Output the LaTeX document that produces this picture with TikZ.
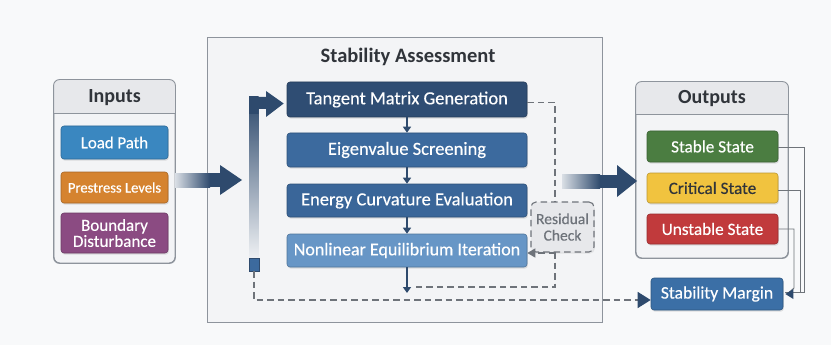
\documentclass[tikz,border=0pt]{standalone}
\usepackage{fontspec}
\setmainfont{Carlito}
\newfontfamily\boxfont{Carlito}[FakeBold=0.35]
\usetikzlibrary{arrows.meta,shadows,calc}

\definecolor{bgc}{HTML}{F8F9FA}
\definecolor{navy}{HTML}{2E4A6D}
\definecolor{panelfill}{HTML}{F3F4F6}
\definecolor{panelline}{HTML}{8E949C}
\definecolor{headfill}{HTML}{E7E8EB}
\definecolor{tmgc}{HTML}{2F4D73}
\definecolor{eigc}{HTML}{3C6A9E}
\definecolor{enc}{HTML}{3A6699}
\definecolor{nlc}{HTML}{6796C6}
\definecolor{loadc}{HTML}{3A87C0}
\definecolor{presc}{HTML}{D5832F}
\definecolor{bndc}{HTML}{8B4B82}
\definecolor{stc}{HTML}{4B7D41}
\definecolor{crc}{HTML}{F1C33F}
\definecolor{unc}{HTML}{C13A3C}
\definecolor{smc}{HTML}{3B6FA6}
\definecolor{dgray}{HTML}{6E737A}
\definecolor{lgray}{HTML}{6F747A}
\definecolor{textdark}{HTML}{30343A}

\begin{document}
\begin{tikzpicture}[x=1pt,y=-1pt,
  box/.style={rounded corners=3pt, fill=#1, draw=#1!78!black, line width=0.6pt,
    text=white, inner sep=0pt, align=center,
    drop shadow={opacity=0.22, shadow xshift=0.8pt, shadow yshift=-1.6pt}},
  panel/.style={fill=panelfill, draw=panelline, line width=0.9pt, inner sep=0pt},
  flow/.style={draw=navy, line width=1.7pt, -{Triangle[length=6pt,width=8pt]}},
  dashline/.style={draw=dgray, line width=1.3pt, dash pattern=on 6.5pt off 4pt},
  outline/.style={draw=lgray, line width=0.9pt},
  headtext/.style={font=\bfseries\fontsize{20}{22}\selectfont, text=textdark},
]
% page background
\fill[bgc] (0,0) rectangle (831,345);
\useasboundingbox (0,0) rectangle (831,345);

% ---------- Inputs panel ----------
\node[panel, rounded corners=6pt, minimum width=121pt, minimum height=183pt] (inp) at (114.5,171.5) {};
\begin{scope}
  \clip[rounded corners=6pt] (inp.north west) rectangle (inp.south east);
  \fill[headfill] (inp.north west) rectangle ($(inp.north east)+(0,34)$);
\end{scope}
\draw[panelline, line width=0.9pt] ($(inp.north west)+(0,34)$) -- ($(inp.north east)+(0,34)$);
\draw[panelline, line width=0.9pt, rounded corners=6pt] (inp.north west) rectangle (inp.south east);
\node[headtext] (inph) at (114.5,98) {Inputs};

\node[box=loadc, minimum width=107pt, minimum height=33pt, font=\boxfont\fontsize{16.8}{18}\selectfont] (load) at (114.5,142.5) {Load Path};
\node[box=presc, minimum width=107pt, minimum height=31pt, font=\boxfont\fontsize{14.6}{17}\selectfont] (pres) at (114.5,187.5) {Prestress Levels};
\node[box=bndc, minimum width=107pt, minimum height=40pt, font=\boxfont\fontsize{17}{16}\selectfont] (bnd) at (114.5,233) {Boundary\\Disturbance};

% ---------- Stability Assessment panel ----------
\node[panel, minimum width=395pt, minimum height=285pt] (sa) at (404.5,179.5) {};
\node[font=\bfseries\fontsize{20.5}{22}\selectfont, text=textdark] (sah) at (408,57) {Stability Assessment};

\node[box=tmgc, minimum width=240pt, minimum height=35pt, font=\boxfont\fontsize{18.5}{20}\selectfont] (tmg) at (407,99.5) {Tangent Matrix Generation};
\node[box=eigc, minimum width=240pt, minimum height=34pt, font=\boxfont\fontsize{18.5}{20}\selectfont] (eig) at (407,150) {Eigenvalue Screening};
\node[box=enc, minimum width=240pt, minimum height=33pt, font=\boxfont\fontsize{18.5}{20}\selectfont] (ene) at (407,200.5) {Energy Curvature Evaluation};
\node[box=nlc, minimum width=240pt, minimum height=33pt, font=\boxfont\fontsize{18}{20}\selectfont] (nl) at (407,250.5) {Nonlinear Equilibrium Iteration};

\node[rounded corners=5pt, fill=headfill, dashline, line width=1.1pt, minimum width=63pt, minimum height=50pt,
  inner sep=0pt, align=center, text=dgray, font=\boxfont\fontsize{15.5}{16.5}\selectfont,
  drop shadow={opacity=0.15, shadow xshift=0.8pt, shadow yshift=-1.6pt}] (rc) at (562.5,227) {Residual\\Check};

% flow between stages
\draw[flow] (tmg.south) -- (eig.north);
\draw[flow] (eig.south) -- (ene.north);
\draw[flow] (ene.south) -- (nl.north);
\coordinate (nlout) at (407,293);
\draw[flow] (nl.south) -- (nlout);

% residual loop
\coordinate (rctop) at (555,0 |- rc.north);
\coordinate (rcbot) at (555,252);
\coordinate (rcend) at (555,287);
\draw[dashline] ($(tmg.east)+(0,3)$) -| (rctop);
\draw[dashline] (rcbot) -- (rcend) -- (413,287);
\draw[dashline, -{Triangle[length=8pt,width=9pt,color=dgray]}] (rcbot |- 0,253) -- (nl.east |- 0,253);

% feedback bar back to the tangent matrix
\coordinate (fbtop) at (249,97);
\shade[top color=navy, middle color=navy!55!white, bottom color=navy!8!white] (fbtop) rectangle (258.5,258);
\fill[navy] (249,97) -- (266,97) -- (266,91) -- ($(tmg.west)+(-3,4)$) -- (266,117) -- (266,109) -- (258.5,109) -- (258.5,114) -- (249,114) -- cycle;
\node[fill=eigc, draw=navy, line width=0.4pt, minimum width=10pt, minimum height=13pt, inner sep=0pt] (fbbase) at (254,264.5) {};

% ---------- Outputs panel ----------
\node[panel, rounded corners=6pt, minimum width=152pt, minimum height=176pt] (outp) at (712,170) {};
\begin{scope}
  \clip[rounded corners=6pt] (outp.north west) rectangle (outp.south east);
  \fill[headfill] (outp.north west) rectangle ($(outp.north east)+(0,33)$);
\end{scope}
\draw[panelline, line width=0.9pt] ($(outp.north west)+(0,33)$) -- ($(outp.north east)+(0,33)$);
\draw[panelline, line width=0.9pt, rounded corners=6pt] (outp.north west) rectangle (outp.south east);
\node[headtext] (outh) at (712,99) {Outputs};

\node[box=stc, minimum width=131pt, minimum height=31pt, font=\boxfont\fontsize{17.2}{18}\selectfont] (st) at (712.5,146.5) {Stable State};
\node[box=crc, minimum width=131pt, minimum height=30pt, font=\boxfont\fontsize{17.2}{18}\selectfont, text=textdark] (cr) at (712.5,188) {Critical State};
\node[box=unc, minimum width=131pt, minimum height=30pt, font=\boxfont\fontsize{17.2}{18}\selectfont] (un) at (712.5,229) {Unstable State};

\node[box=smc, minimum width=132pt, minimum height=32pt, font=\boxfont\fontsize{17.6}{19}\selectfont] (sm) at (717,294) {Stability Margin};

% state lines into the margin
\draw[outline] ($(st.east)+(0,1)$) -- (804,147.5) -- (804,292) -- ($(sm.east)+(2,-2)$);
\draw[outline] ($(cr.east)+(0,2)$) -- (800,190) -- (800,292);
\draw[outline] (un.east) -- (794,229) -- (794,288) -- ($(sm.east)+(4,0)$);
\fill[navy] ($(sm.east)+(2,0)$) -- ++(8,-5) -- ++(0,10) -- cycle;

% long return path to the margin
\draw[dashline, -{Triangle[length=13pt,width=16pt,color=navy]}] (fbbase.south) |- ($(sm.west)+(0,6)$);

% ---------- wide transfer arrows ----------
\shade[left color=navy!18!white, right color=navy] (175,173) rectangle (210,187);
\fill[navy] (209.5,173) rectangle (221,187);
\fill[navy] (220,165) -- (242,180) -- (220,195) -- cycle;

\shade[left color=navy!18!white, right color=navy] (562,174.5) rectangle (600,188);
\fill[navy] (599.5,174.5) rectangle (618,188);
\fill[navy] (617,165) -- (637,181) -- (617,197) -- cycle;
\end{tikzpicture}
\end{document}
